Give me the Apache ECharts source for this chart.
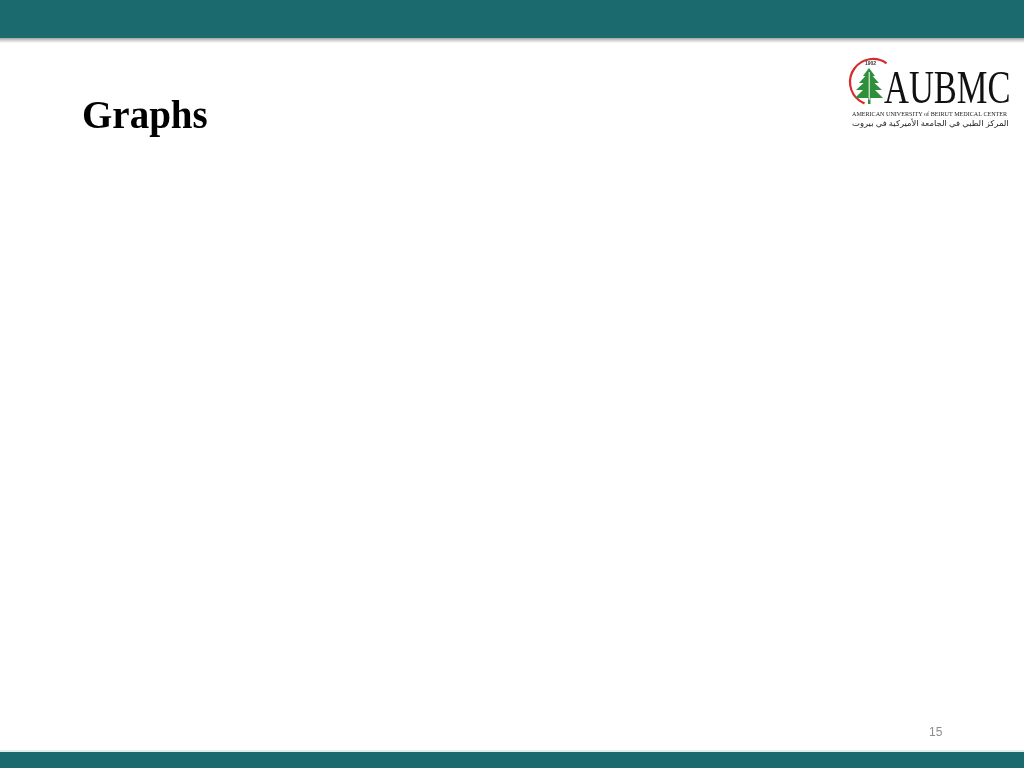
<!DOCTYPE html>
<html lang="en">
<head>
    <meta charset="utf-8">
    <title>Graphs</title>
    <script src="https://cdn.jsdelivr.net/npm/echarts@6/dist/echarts.min.js"></script>
    <style>
        html, body { margin: 0; padding: 0; background: #fff; }
        #slide { width: 1024px; height: 768px; }
    </style>
</head>
<body>
    <div id="slide"></div>
    <script type="text/javascript">

    // slide texts
    var slideTitle = 'Graphs',
        pageNumber = '15',
        logoYear = '1902',
        logoName = 'AUBMC',
        logoLine1 = 'AMERICAN UNIVERSITY of BEIRUT MEDICAL CENTER',
        logoLine2 = 'المركز الطبي في الجامعة الأميركية في بيروت';

    var teal = '#1b6b6e';

    var chart = echarts.init(document.getElementById('slide'), null, {renderer: 'canvas'});

    // cedar tree: stacked layers of the logo
    var treeLayers = [
        [[869, 68], [863, 76], [875, 76]],
        [[869, 72], [859, 83], [879, 83]],
        [[869, 78], [856, 90], [882, 90]],
        [[869, 84], [855, 98], [883, 98]]
    ];
    var tree = treeLayers.map(function (pts) {
        return {type: 'polygon', shape: {points: pts}, style: {fill: '#2f8f3a'}};
    });

    chart.setOption({
        animation: false,
        graphic: [
            // top band + its shadow
            {type: 'rect', shape: {x: 0, y: 38, width: 1024, height: 5},
             style: {fill: new echarts.graphic.LinearGradient(0, 0, 0, 1, [
                 {offset: 0, color: 'rgba(0,0,0,0.35)'}, {offset: 1, color: 'rgba(0,0,0,0)'}])}},
            {type: 'rect', shape: {x: 0, y: 0, width: 1024, height: 38}, style: {fill: teal}},
            // bottom band
            {type: 'rect', shape: {x: 0, y: 750, width: 1024, height: 2}, style: {fill: '#e3ecec'}},
            {type: 'rect', shape: {x: 0, y: 752, width: 1024, height: 16}, style: {fill: teal}},
            // title
            {type: 'text', left: 82, top: 98,
             style: {text: slideTitle, font: 'bold 39px "Liberation Serif", "Times New Roman", serif', fill: '#000'}},
            // page number
            {type: 'text', left: 929, top: 727,
             style: {text: pageNumber, font: '12px "Liberation Sans", Arial, sans-serif', fill: '#8c8c8c'}},
            // logo: red arc
            {type: 'arc', shape: {cx: 873, cy: 82, r: 23, startAngle: -Math.PI * 0.3, endAngle: Math.PI * 0.62, clockwise: false},
             style: {stroke: '#d52b2b', lineWidth: 2.2, fill: null}},
            {type: 'group', children: tree.concat([
                {type: 'rect', shape: {x: 868, y: 90, width: 2.5, height: 14}, style: {fill: '#2f8f3a'}},
                {type: 'line', shape: {x1: 869.2, y1: 72, x2: 869.2, y2: 100}, style: {stroke: '#fff', lineWidth: 1}}
            ])},
            {type: 'text', x: 865, y: 61,
             style: {text: logoYear, font: 'bold 5px "Liberation Sans", Arial, sans-serif', fill: '#333'}},
            {type: 'text', x: 884, y: 68, scaleX: 0.75,
             style: {text: logoName, font: '46px "Liberation Serif", "Times New Roman", serif', fill: '#111'}},
            {type: 'text', x: 852, y: 111, scaleX: 0.87,
             style: {text: logoLine1, font: '7px "Liberation Serif", "Times New Roman", serif', fill: '#222'}},
            {type: 'text', x: 852, y: 120, scaleX: 1.05,
             style: {text: logoLine2, font: '8px "Noto Sans", "DejaVu Sans", sans-serif', fill: '#222'}}
        ]
    });

    </script>
</body>
</html>
